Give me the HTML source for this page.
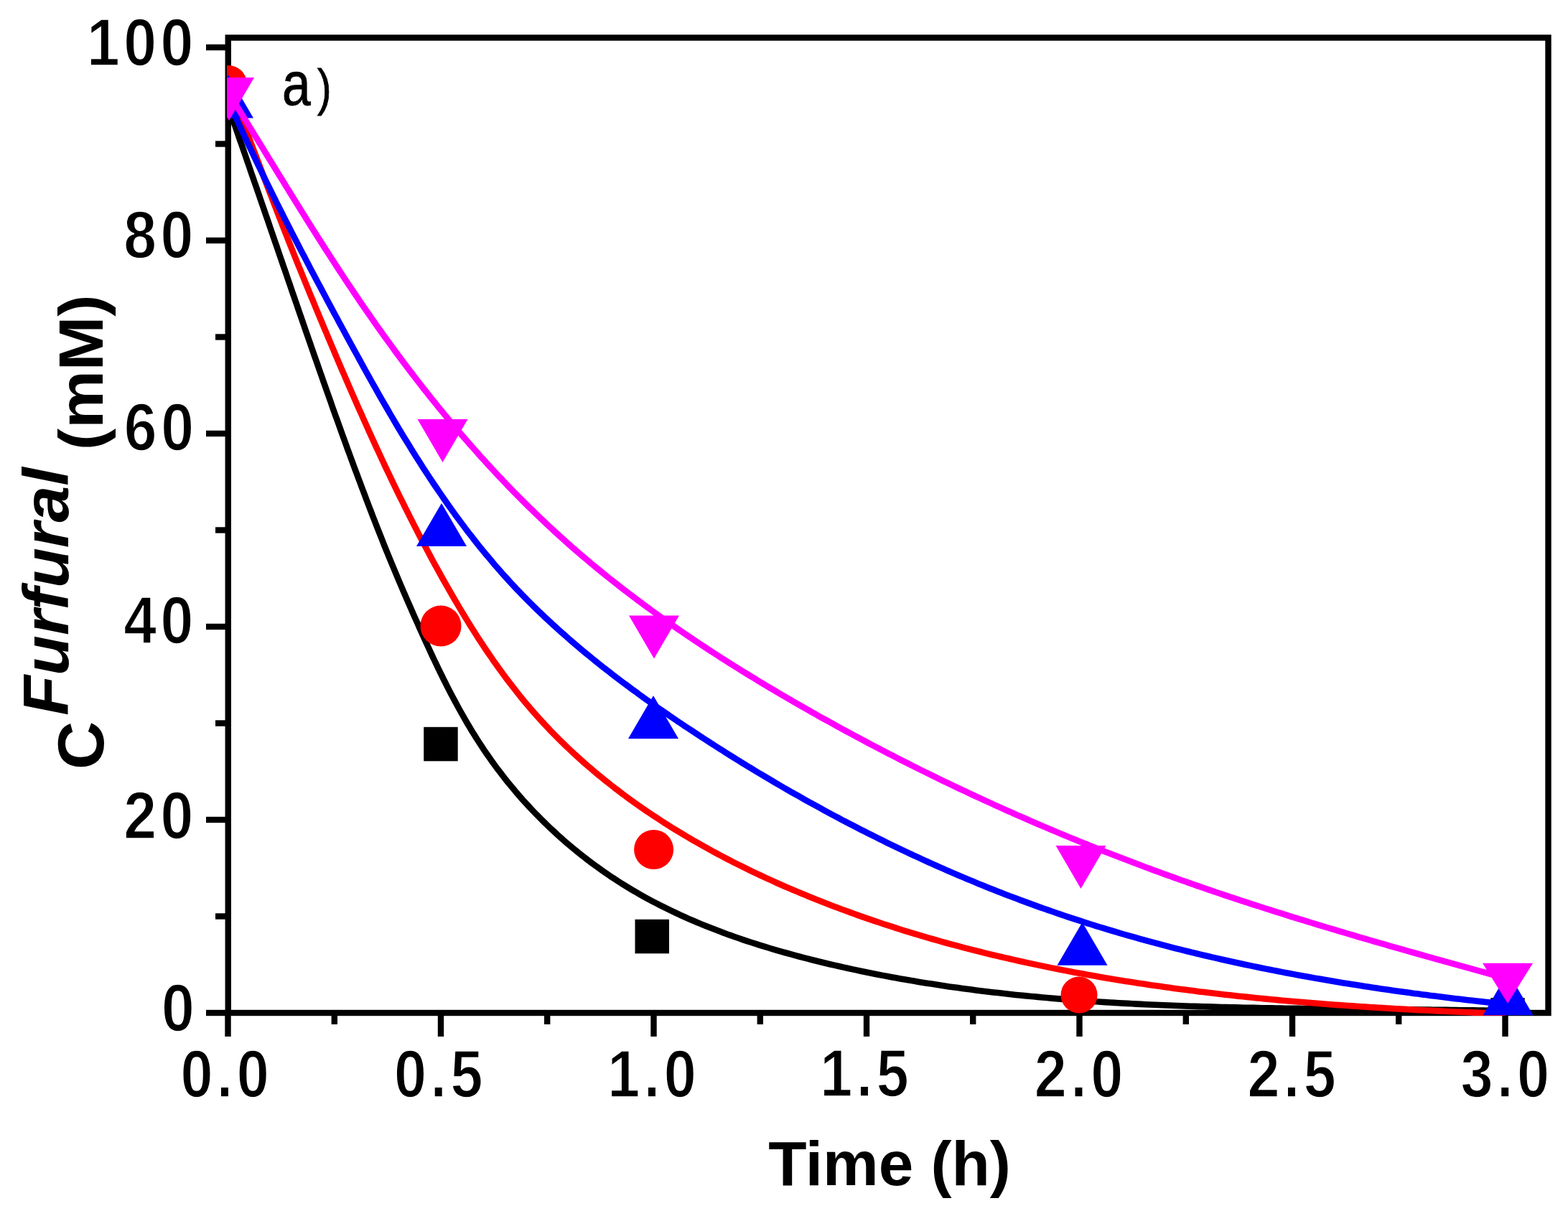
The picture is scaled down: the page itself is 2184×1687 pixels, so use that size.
<!DOCTYPE html>
<html><head><meta charset="utf-8"><title>Furfural concentration vs time</title>
<style>html,body{margin:0;padding:0;background:#fff;overflow:hidden}svg{display:block}</style>
</head><body>
<svg width="2184" height="1687" viewBox="0 0 2184 1687">
<defs><clipPath id="pc"><rect x="316" y="48" width="1845" height="1367"/></clipPath></defs>
<style>
.t{font-family:"Liberation Sans",Arial,sans-serif;font-weight:bold;font-size:90px;fill:#000;stroke:#fff;stroke-width:1.6px}
.b{font-family:"Liberation Sans",Arial,sans-serif;font-weight:bold;font-size:90px;fill:#000}
.a{font-family:"Liberation Sans",Arial,sans-serif;font-weight:normal;font-size:88px;fill:#000;stroke:#000;stroke-width:1px}
</style>
<rect width="2184" height="1687" fill="#fff"/>
<g><rect x="317.75" y="52.5" width="1838.75" height="1358.5" fill="none" stroke="#000" stroke-width="8.4"/><line x1="287" y1="1411.0" x2="318" y2="1411.0" stroke="#000" stroke-width="8.4"/><line x1="300" y1="1276.5" x2="318" y2="1276.5" stroke="#000" stroke-width="8.4"/><line x1="287" y1="1142.0" x2="318" y2="1142.0" stroke="#000" stroke-width="8.4"/><line x1="300" y1="1007.5" x2="318" y2="1007.5" stroke="#000" stroke-width="8.4"/><line x1="287" y1="873.0" x2="318" y2="873.0" stroke="#000" stroke-width="8.4"/><line x1="300" y1="738.5" x2="318" y2="738.5" stroke="#000" stroke-width="8.4"/><line x1="287" y1="604.0" x2="318" y2="604.0" stroke="#000" stroke-width="8.4"/><line x1="300" y1="469.5" x2="318" y2="469.5" stroke="#000" stroke-width="8.4"/><line x1="287" y1="335.0" x2="318" y2="335.0" stroke="#000" stroke-width="8.4"/><line x1="300" y1="200.5" x2="318" y2="200.5" stroke="#000" stroke-width="8.4"/><line x1="287" y1="66.0" x2="318" y2="66.0" stroke="#000" stroke-width="8.4"/><line x1="317.5" y1="1411" x2="317.5" y2="1444" stroke="#000" stroke-width="8.4"/><line x1="465.8" y1="1411" x2="465.8" y2="1427" stroke="#000" stroke-width="8.4"/><line x1="614.0" y1="1411" x2="614.0" y2="1444" stroke="#000" stroke-width="8.4"/><line x1="762.2" y1="1411" x2="762.2" y2="1427" stroke="#000" stroke-width="8.4"/><line x1="910.5" y1="1411" x2="910.5" y2="1444" stroke="#000" stroke-width="8.4"/><line x1="1058.8" y1="1411" x2="1058.8" y2="1427" stroke="#000" stroke-width="8.4"/><line x1="1207.0" y1="1411" x2="1207.0" y2="1444" stroke="#000" stroke-width="8.4"/><line x1="1355.2" y1="1411" x2="1355.2" y2="1427" stroke="#000" stroke-width="8.4"/><line x1="1503.5" y1="1411" x2="1503.5" y2="1444" stroke="#000" stroke-width="8.4"/><line x1="1651.8" y1="1411" x2="1651.8" y2="1427" stroke="#000" stroke-width="8.4"/><line x1="1800.0" y1="1411" x2="1800.0" y2="1444" stroke="#000" stroke-width="8.4"/><line x1="1948.2" y1="1411" x2="1948.2" y2="1427" stroke="#000" stroke-width="8.4"/><line x1="2096.5" y1="1411" x2="2096.5" y2="1444" stroke="#000" stroke-width="8.4"/></g><g clip-path="url(#pc)"><polyline points="317.3,146.8 319.4,152.7 321.5,158.6 323.5,164.5 325.6,170.4 327.7,176.3 329.7,182.2 331.8,188.1 333.8,194.0 335.9,199.9 338.0,205.8 340.0,211.7 342.1,217.7 344.1,223.6 346.2,229.5 348.2,235.4 350.2,241.3 352.3,247.2 354.3,253.1 356.4,259.0 358.4,264.9 360.5,270.9 362.5,276.8 364.5,282.7 366.6,288.6 368.6,294.5 370.6,300.4 372.7,306.3 374.7,312.2 376.7,318.2 378.8,324.1 380.8,330.0 382.8,335.9 384.9,341.8 386.9,347.7 388.9,353.6 391.0,359.6 393.0,365.5 395.0,371.4 397.1,377.3 399.1,383.2 401.1,389.1 403.2,395.0 405.2,400.9 407.2,406.9 409.3,412.8 411.3,418.7 413.4,424.6 415.4,430.5 417.4,436.4 419.5,442.3 421.5,448.2 423.6,454.1 425.6,460.1 427.7,466.0 429.7,471.9 431.8,477.8 433.8,483.7 435.9,489.6 437.9,495.5 440.0,501.4 442.1,507.3 444.1,513.2 446.2,519.1 448.3,525.0 450.3,530.9 452.4,536.8 454.5,542.7 456.6,548.6 458.7,554.5 460.8,560.4 462.8,566.3 464.9,572.2 467.0,578.1 469.2,584.0 471.3,589.9 473.4,595.8 475.5,601.7 477.6,607.5 479.8,613.4 481.9,619.3 484.0,625.2 486.2,631.0 488.3,636.9 490.5,642.8 492.6,648.6 494.8,654.5 497.0,660.3 499.2,666.2 501.4,672.0 503.6,677.9 505.8,683.7 508.0,689.5 510.2,695.4 512.4,701.2 514.6,707.0 516.9,712.9 519.1,718.7 521.4,724.5 523.6,730.3 525.9,736.1 528.2,741.9 530.5,747.7 532.8,753.5 535.1,759.3 537.4,765.1 539.8,770.8 542.1,776.6 544.5,782.4 546.9,788.1 549.3,793.9 551.7,799.6 554.1,805.4 556.5,811.1 559.0,816.9 561.4,822.6 563.9,828.3 566.4,834.1 568.9,839.8 571.4,845.5 573.9,851.2 576.4,856.9 578.9,862.6 581.5,868.3 584.0,874.0 586.6,879.7 589.2,885.4 591.7,891.1 594.3,896.8 597.0,902.5 599.6,908.2 602.2,913.9 604.9,919.5 607.6,925.2 610.3,930.8 613.0,936.4 615.8,942.0 618.5,947.6 621.4,953.2 624.2,958.8 627.0,964.3 629.9,969.8 632.9,975.4 635.8,980.8 638.8,986.3 641.8,991.8 644.9,997.2 648.0,1002.6 651.1,1008.0 654.3,1013.3 657.5,1018.7 660.8,1023.9 664.1,1029.2 667.5,1034.5 670.9,1039.7 674.3,1044.9 677.8,1050.0 681.4,1055.1 685.0,1060.2 688.6,1065.3 692.3,1070.3 696.1,1075.2 699.9,1080.2 703.7,1085.1 707.6,1090.0 711.6,1094.8 715.6,1099.6 719.6,1104.4 723.7,1109.1 727.8,1113.8 732.0,1118.4 736.2,1123.0 740.5,1127.6 744.8,1132.1 749.2,1136.6 753.6,1141.0 758.0,1145.4 762.5,1149.8 767.0,1154.1 771.6,1158.3 776.2,1162.6 780.8,1166.7 785.5,1170.9 790.2,1174.9 795.0,1179.0 799.8,1183.0 804.6,1186.9 809.5,1190.8 814.4,1194.7 819.3,1198.5 824.3,1202.2 829.3,1205.9 834.4,1209.6 839.5,1213.2 844.6,1216.8 849.7,1220.3 854.9,1223.7 860.2,1227.1 865.4,1230.5 870.7,1233.7 876.0,1237.0 881.3,1240.2 886.7,1243.3 892.1,1246.4 897.5,1249.4 903.0,1252.4 908.5,1255.4 914.0,1258.3 919.5,1261.1 925.1,1263.9 930.7,1266.7 936.3,1269.4 941.9,1272.0 947.6,1274.7 953.3,1277.2 959.0,1279.8 964.7,1282.3 970.5,1284.7 976.2,1287.1 982.0,1289.5 987.8,1291.8 993.7,1294.1 999.5,1296.3 1005.4,1298.6 1011.2,1300.7 1017.1,1302.9 1023.0,1305.0 1029.0,1307.0 1034.9,1309.1 1040.9,1311.1 1046.8,1313.0 1052.8,1314.9 1058.8,1316.8 1064.8,1318.7 1070.8,1320.5 1076.9,1322.3 1082.9,1324.1 1089.0,1325.8 1095.0,1327.5 1101.1,1329.2 1107.1,1330.9 1113.2,1332.5 1119.3,1334.1 1125.4,1335.7 1131.5,1337.2 1137.6,1338.7 1143.7,1340.2 1149.8,1341.7 1155.9,1343.2 1162.1,1344.6 1168.2,1346.0 1174.3,1347.4 1180.4,1348.7 1186.6,1350.1 1192.7,1351.4 1198.8,1352.7 1205.0,1354.0 1211.1,1355.2 1217.2,1356.5 1223.4,1357.7 1229.5,1358.9 1235.7,1360.0 1241.8,1361.2 1248.0,1362.3 1254.1,1363.4 1260.3,1364.5 1266.5,1365.6 1272.6,1366.6 1278.8,1367.7 1284.9,1368.7 1291.1,1369.7 1297.3,1370.6 1303.5,1371.6 1309.6,1372.5 1315.8,1373.4 1322.0,1374.4 1328.2,1375.2 1334.4,1376.1 1340.5,1377.0 1346.7,1377.8 1352.9,1378.6 1359.1,1379.4 1365.3,1380.2 1371.5,1380.9 1377.7,1381.7 1383.9,1382.4 1390.1,1383.1 1396.3,1383.8 1402.5,1384.5 1408.7,1385.2 1414.9,1385.9 1421.1,1386.5 1427.4,1387.1 1433.6,1387.7 1439.8,1388.3 1446.0,1388.9 1452.2,1389.5 1458.4,1390.0 1464.7,1390.6 1470.9,1391.1 1477.1,1391.6 1483.3,1392.1 1489.6,1392.6 1495.8,1393.1 1502.0,1393.6 1508.3,1394.0 1514.5,1394.5 1520.7,1394.9 1527.0,1395.3 1533.2,1395.7 1539.4,1396.1 1545.7,1396.5 1551.9,1396.9 1558.2,1397.2 1564.4,1397.6 1570.7,1397.9 1576.9,1398.2 1583.1,1398.6 1589.4,1398.9 1595.6,1399.2 1601.9,1399.5 1608.1,1399.7 1614.4,1400.0 1620.6,1400.3 1626.9,1400.5 1633.2,1400.8 1639.4,1401.0 1645.7,1401.2 1651.9,1401.5 1658.2,1401.7 1664.4,1401.9 1670.7,1402.1 1677.0,1402.3 1683.2,1402.4 1689.5,1402.6 1695.7,1402.8 1702.0,1403.0 1708.3,1403.1 1714.5,1403.3 1720.8,1403.4 1727.0,1403.5 1733.3,1403.7 1739.6,1403.8 1745.8,1403.9 1752.1,1404.0 1758.4,1404.2 1764.6,1404.3 1770.9,1404.4 1777.2,1404.5 1783.4,1404.6 1789.7,1404.7 1796.0,1404.7 1802.2,1404.8 1808.5,1404.9 1814.8,1405.0 1821.0,1405.1 1827.3,1405.1 1833.6,1405.2 1839.8,1405.3 1846.1,1405.3 1852.4,1405.4 1858.7,1405.5 1864.9,1405.5 1871.2,1405.6 1877.5,1405.6 1883.7,1405.7 1890.0,1405.7 1896.3,1405.8 1902.5,1405.8 1908.8,1405.9 1915.1,1406.0 1921.3,1406.0 1927.6,1406.1 1933.9,1406.1 1940.1,1406.2 1946.4,1406.2 1952.7,1406.3 1958.9,1406.3 1965.2,1406.4 1971.4,1406.4 1977.7,1406.5 1984.0,1406.6 1990.2,1406.6 1996.5,1406.7 2002.8,1406.8 2009.0,1406.8 2015.3,1406.9 2021.5,1407.0 2027.8,1407.1 2034.0,1407.2 2040.3,1407.2 2046.6,1407.3 2052.8,1407.4 2059.1,1407.5 2065.3,1407.6 2071.6,1407.7 2077.8,1407.9 2084.1,1408.0 2090.3,1408.1 2096.6,1408.2" fill="none" stroke="#000" stroke-width="8.6" stroke-linejoin="round"/><rect x="590.2" y="1012.8" width="47.5" height="47.5" fill="#000"/><rect x="884.5" y="1280.8" width="47.5" height="47.5" fill="#000"/><rect x="2076.2" y="1390.2" width="47.5" height="47.5" fill="#000"/><polyline points="318.5,119.5 320.8,125.1 323.0,130.8 325.3,136.4 327.5,142.1 329.7,147.7 331.9,153.4 334.1,159.1 336.3,164.7 338.5,170.4 340.7,176.1 342.9,181.8 345.1,187.4 347.2,193.1 349.4,198.8 351.6,204.5 353.7,210.2 355.9,215.9 358.1,221.6 360.2,227.2 362.4,232.9 364.5,238.6 366.7,244.3 368.8,250.0 371.0,255.7 373.2,261.4 375.3,267.1 377.5,272.7 379.7,278.4 381.9,284.1 384.1,289.8 386.3,295.5 388.5,301.1 390.7,306.8 392.9,312.5 395.1,318.1 397.3,323.8 399.6,329.5 401.8,335.1 404.1,340.8 406.3,346.4 408.6,352.1 410.8,357.8 413.1,363.4 415.4,369.1 417.7,374.7 420.0,380.3 422.3,386.0 424.6,391.6 426.9,397.3 429.2,402.9 431.5,408.6 433.8,414.2 436.2,419.8 438.5,425.5 440.8,431.1 443.2,436.7 445.5,442.4 447.9,448.0 450.2,453.6 452.6,459.2 455.0,464.9 457.3,470.5 459.7,476.1 462.1,481.8 464.5,487.4 466.8,493.0 469.2,498.6 471.6,504.2 474.0,509.9 476.4,515.5 478.9,521.1 481.3,526.7 483.7,532.3 486.1,537.9 488.6,543.5 491.0,549.1 493.5,554.7 495.9,560.3 498.4,565.9 500.9,571.5 503.4,577.1 505.9,582.7 508.4,588.2 510.9,593.8 513.4,599.4 515.9,604.9 518.4,610.5 521.0,616.1 523.5,621.6 526.1,627.1 528.7,632.7 531.2,638.2 533.8,643.8 536.4,649.3 539.0,654.8 541.7,660.3 544.3,665.8 546.9,671.3 549.6,676.8 552.2,682.3 554.9,687.8 557.6,693.3 560.3,698.7 563.0,704.2 565.7,709.7 568.5,715.1 571.2,720.6 574.0,726.0 576.7,731.4 579.5,736.8 582.3,742.3 585.1,747.7 587.9,753.1 590.8,758.5 593.6,763.8 596.5,769.2 599.4,774.6 602.2,779.9 605.1,785.3 608.1,790.6 611.0,795.9 614.0,801.3 616.9,806.6 619.9,811.9 622.9,817.1 625.9,822.4 628.9,827.7 632.0,833.0 635.0,838.2 638.1,843.4 641.2,848.6 644.3,853.8 647.5,859.0 650.7,864.2 653.8,869.4 657.0,874.5 660.3,879.6 663.5,884.7 666.8,889.8 670.1,894.9 673.4,899.9 676.8,905.0 680.2,910.0 683.6,914.9 687.0,919.9 690.5,924.8 694.0,929.7 697.5,934.6 701.1,939.5 704.7,944.3 708.3,949.1 712.0,953.9 715.7,958.7 719.4,963.4 723.1,968.1 726.9,972.8 730.7,977.4 734.6,982.0 738.5,986.6 742.4,991.1 746.4,995.6 750.4,1000.1 754.4,1004.5 758.5,1009.0 762.6,1013.3 766.7,1017.7 770.9,1022.0 775.1,1026.3 779.3,1030.5 783.6,1034.7 787.9,1038.9 792.2,1043.0 796.6,1047.1 801.0,1051.2 805.5,1055.3 809.9,1059.3 814.4,1063.3 819.0,1067.2 823.5,1071.1 828.1,1075.0 832.7,1078.9 837.4,1082.7 842.0,1086.5 846.7,1090.2 851.5,1094.0 856.2,1097.7 861.0,1101.3 865.8,1105.0 870.7,1108.6 875.5,1112.2 880.4,1115.7 885.3,1119.2 890.3,1122.7 895.3,1126.2 900.2,1129.6 905.3,1133.0 910.3,1136.4 915.4,1139.7 920.4,1143.0 925.5,1146.3 930.7,1149.6 935.8,1152.8 941.0,1156.0 946.2,1159.2 951.4,1162.3 956.6,1165.4 961.9,1168.5 967.1,1171.6 972.4,1174.6 977.7,1177.6 983.1,1180.6 988.4,1183.5 993.8,1186.5 999.2,1189.4 1004.6,1192.2 1010.0,1195.1 1015.4,1197.9 1020.8,1200.7 1026.3,1203.5 1031.8,1206.2 1037.3,1208.9 1042.8,1211.6 1048.3,1214.3 1053.8,1216.9 1059.3,1219.5 1064.9,1222.1 1070.5,1224.7 1076.0,1227.2 1081.6,1229.7 1087.2,1232.2 1092.9,1234.7 1098.5,1237.1 1104.1,1239.5 1109.8,1241.9 1115.4,1244.3 1121.1,1246.6 1126.7,1249.0 1132.4,1251.3 1138.1,1253.5 1143.8,1255.8 1149.5,1258.0 1155.2,1260.2 1160.9,1262.4 1166.6,1264.6 1172.4,1266.7 1178.1,1268.8 1183.8,1270.9 1189.6,1273.0 1195.4,1275.1 1201.1,1277.1 1206.9,1279.1 1212.7,1281.1 1218.5,1283.1 1224.3,1285.0 1230.0,1287.0 1235.9,1288.9 1241.7,1290.7 1247.5,1292.6 1253.3,1294.5 1259.1,1296.3 1265.0,1298.1 1270.8,1299.9 1276.7,1301.6 1282.5,1303.4 1288.4,1305.1 1294.2,1306.8 1300.1,1308.5 1306.0,1310.2 1311.8,1311.8 1317.7,1313.5 1323.6,1315.1 1329.5,1316.7 1335.4,1318.2 1341.3,1319.8 1347.2,1321.3 1353.1,1322.9 1359.0,1324.4 1364.9,1325.8 1370.9,1327.3 1376.8,1328.8 1382.7,1330.2 1388.6,1331.6 1394.6,1333.0 1400.5,1334.4 1406.5,1335.8 1412.4,1337.1 1418.4,1338.5 1424.3,1339.8 1430.3,1341.1 1436.2,1342.4 1442.2,1343.6 1448.2,1344.9 1454.1,1346.1 1460.1,1347.4 1466.1,1348.6 1472.1,1349.8 1478.0,1350.9 1484.0,1352.1 1490.0,1353.3 1496.0,1354.4 1502.0,1355.5 1508.0,1356.6 1514.0,1357.7 1520.0,1358.8 1526.0,1359.8 1532.0,1360.9 1538.0,1361.9 1544.0,1362.9 1550.0,1364.0 1556.0,1364.9 1562.0,1365.9 1568.0,1366.9 1574.0,1367.8 1580.1,1368.8 1586.1,1369.7 1592.1,1370.6 1598.1,1371.5 1604.2,1372.4 1610.2,1373.3 1616.2,1374.1 1622.3,1375.0 1628.3,1375.8 1634.3,1376.7 1640.4,1377.5 1646.4,1378.3 1652.5,1379.1 1658.5,1379.8 1664.6,1380.6 1670.6,1381.4 1676.7,1382.1 1682.7,1382.8 1688.8,1383.6 1694.8,1384.3 1700.9,1385.0 1707.0,1385.7 1713.0,1386.3 1719.1,1387.0 1725.1,1387.7 1731.2,1388.3 1737.3,1388.9 1743.3,1389.6 1749.4,1390.2 1755.5,1390.8 1761.5,1391.4 1767.6,1392.0 1773.7,1392.5 1779.8,1393.1 1785.8,1393.7 1791.9,1394.2 1798.0,1394.8 1804.1,1395.3 1810.2,1395.8 1816.2,1396.3 1822.3,1396.8 1828.4,1397.3 1834.5,1397.8 1840.6,1398.3 1846.7,1398.7 1852.8,1399.2 1858.8,1399.7 1864.9,1400.1 1871.0,1400.5 1877.1,1401.0 1883.2,1401.4 1889.3,1401.8 1895.4,1402.2 1901.5,1402.6 1907.6,1403.0 1913.6,1403.4 1919.7,1403.8 1925.8,1404.1 1931.9,1404.5 1938.0,1404.9 1944.1,1405.2 1950.2,1405.6 1956.3,1405.9 1962.4,1406.2 1968.5,1406.6 1974.6,1406.9 1980.7,1407.2 1986.8,1407.5 1992.9,1407.8 1999.0,1408.1 2005.1,1408.4 2011.2,1408.7 2017.3,1409.0 2023.4,1409.2 2029.4,1409.5 2035.5,1409.8 2041.6,1410.0 2047.7,1410.3 2053.8,1410.6 2059.9,1410.8 2066.0,1411.0 2072.1,1411.3 2078.2,1411.5 2084.3,1411.8 2090.4,1412.0 2096.5,1412.2" fill="none" stroke="#f00" stroke-width="8.6" stroke-linejoin="round"/><circle cx="318.0" cy="117.0" r="26" fill="#f00"/><circle cx="614.0" cy="872.0" r="28.5" fill="#f00"/><circle cx="910.6" cy="1183.5" r="27.5" fill="#f00"/><circle cx="1503.0" cy="1386.0" r="25.5" fill="#f00"/><polyline points="317.7,139.5 320.1,144.9 322.5,150.2 324.9,155.6 327.3,160.9 329.8,166.2 332.2,171.5 334.6,176.8 337.1,182.1 339.5,187.4 342.0,192.6 344.4,197.9 346.9,203.2 349.4,208.4 351.9,213.6 354.4,218.9 356.9,224.1 359.4,229.3 361.9,234.5 364.4,239.7 366.9,244.9 369.4,250.1 372.0,255.3 374.5,260.4 377.1,265.6 379.6,270.8 382.2,275.9 384.7,281.1 387.3,286.2 389.9,291.4 392.5,296.5 395.1,301.6 397.7,306.8 400.3,311.9 402.9,317.0 405.5,322.1 408.1,327.2 410.7,332.3 413.4,337.4 416.0,342.5 418.6,347.6 421.3,352.7 424.0,357.8 426.6,362.9 429.3,368.0 431.9,373.1 434.6,378.2 437.3,383.3 440.0,388.4 442.7,393.5 445.4,398.6 448.1,403.6 450.8,408.7 453.5,413.8 456.2,418.9 458.9,424.0 461.7,429.1 464.4,434.2 467.1,439.2 469.9,444.3 472.6,449.4 475.4,454.5 478.1,459.6 480.9,464.7 483.6,469.8 486.4,474.9 489.2,480.0 492.0,485.1 494.8,490.2 497.6,495.3 500.4,500.4 503.2,505.5 506.0,510.6 508.8,515.7 511.6,520.8 514.5,525.9 517.3,531.0 520.2,536.1 523.1,541.1 525.9,546.2 528.8,551.3 531.7,556.4 534.6,561.4 537.6,566.5 540.5,571.5 543.4,576.6 546.4,581.6 549.3,586.6 552.3,591.7 555.3,596.7 558.3,601.7 561.3,606.7 564.4,611.7 567.4,616.6 570.5,621.6 573.5,626.6 576.6,631.5 579.7,636.5 582.9,641.4 586.0,646.3 589.1,651.2 592.3,656.1 595.5,661.0 598.7,665.8 601.9,670.7 605.1,675.5 608.4,680.3 611.7,685.2 615.0,689.9 618.3,694.7 621.6,699.5 624.9,704.2 628.3,709.0 631.7,713.7 635.1,718.4 638.5,723.0 642.0,727.7 645.4,732.3 648.9,737.0 652.4,741.6 656.0,746.1 659.5,750.7 663.1,755.2 666.7,759.8 670.3,764.3 674.0,768.7 677.7,773.2 681.4,777.6 685.1,782.0 688.8,786.4 692.6,790.8 696.4,795.1 700.2,799.5 704.1,803.7 708.0,808.0 711.9,812.3 715.8,816.5 719.7,820.7 723.7,824.8 727.7,829.0 731.8,833.1 735.8,837.2 739.9,841.3 744.0,845.3 748.1,849.4 752.3,853.4 756.5,857.3 760.6,861.3 764.9,865.2 769.1,869.2 773.4,873.0 777.6,876.9 781.9,880.8 786.3,884.6 790.6,888.4 795.0,892.2 799.4,896.0 803.8,899.7 808.2,903.5 812.6,907.2 817.1,910.9 821.6,914.5 826.1,918.2 830.6,921.8 835.1,925.5 839.6,929.1 844.2,932.6 848.8,936.2 853.4,939.8 858.0,943.3 862.6,946.8 867.2,950.3 871.9,953.8 876.6,957.3 881.2,960.7 885.9,964.1 890.6,967.6 895.3,971.0 900.1,974.4 904.8,977.7 909.6,981.1 914.3,984.5 919.1,987.8 923.9,991.1 928.7,994.4 933.5,997.7 938.3,1001.0 943.1,1004.3 948.0,1007.5 952.8,1010.8 957.7,1014.0 962.5,1017.2 967.4,1020.4 972.3,1023.6 977.2,1026.8 982.1,1030.0 987.0,1033.2 991.9,1036.3 996.8,1039.5 1001.7,1042.6 1006.6,1045.7 1011.5,1048.9 1016.5,1052.0 1021.4,1055.0 1026.4,1058.1 1031.3,1061.2 1036.3,1064.2 1041.3,1067.3 1046.3,1070.3 1051.2,1073.3 1056.2,1076.4 1061.2,1079.3 1066.2,1082.3 1071.3,1085.3 1076.3,1088.3 1081.3,1091.2 1086.3,1094.1 1091.4,1097.1 1096.4,1100.0 1101.5,1102.9 1106.5,1105.8 1111.6,1108.6 1116.7,1111.5 1121.8,1114.4 1126.9,1117.2 1132.0,1120.0 1137.1,1122.8 1142.2,1125.6 1147.3,1128.4 1152.4,1131.2 1157.5,1134.0 1162.7,1136.7 1167.8,1139.4 1172.9,1142.2 1178.1,1144.9 1183.3,1147.6 1188.4,1150.2 1193.6,1152.9 1198.8,1155.6 1204.0,1158.2 1209.2,1160.8 1214.4,1163.4 1219.6,1166.0 1224.8,1168.6 1230.0,1171.2 1235.2,1173.8 1240.4,1176.3 1245.7,1178.8 1250.9,1181.3 1256.2,1183.9 1261.4,1186.3 1266.7,1188.8 1272.0,1191.3 1277.2,1193.7 1282.5,1196.2 1287.8,1198.6 1293.1,1201.0 1298.4,1203.4 1303.7,1205.7 1309.0,1208.1 1314.3,1210.4 1319.6,1212.8 1325.0,1215.1 1330.3,1217.4 1335.7,1219.7 1341.0,1221.9 1346.4,1224.2 1351.7,1226.4 1357.1,1228.6 1362.4,1230.9 1367.8,1233.0 1373.2,1235.2 1378.6,1237.4 1384.0,1239.5 1389.4,1241.7 1394.8,1243.8 1400.2,1245.9 1405.6,1248.0 1411.1,1250.0 1416.5,1252.1 1421.9,1254.1 1427.4,1256.1 1432.8,1258.1 1438.3,1260.1 1443.7,1262.1 1449.2,1264.1 1454.7,1266.0 1460.1,1267.9 1465.6,1269.8 1471.1,1271.7 1476.6,1273.6 1482.1,1275.5 1487.6,1277.3 1493.1,1279.1 1498.6,1280.9 1504.1,1282.7 1509.7,1284.5 1515.2,1286.3 1520.7,1288.0 1526.3,1289.8 1531.8,1291.5 1537.4,1293.2 1542.9,1294.9 1548.5,1296.5 1554.1,1298.2 1559.6,1299.8 1565.2,1301.5 1570.8,1303.1 1576.4,1304.7 1581.9,1306.2 1587.5,1307.8 1593.1,1309.4 1598.7,1310.9 1604.3,1312.4 1610.0,1313.9 1615.6,1315.4 1621.2,1316.9 1626.8,1318.4 1632.4,1319.8 1638.1,1321.3 1643.7,1322.7 1649.3,1324.1 1655.0,1325.5 1660.6,1326.9 1666.3,1328.3 1671.9,1329.6 1677.6,1331.0 1683.3,1332.3 1688.9,1333.6 1694.6,1334.9 1700.3,1336.2 1705.9,1337.5 1711.6,1338.8 1717.3,1340.0 1723.0,1341.3 1728.7,1342.5 1734.4,1343.7 1740.0,1344.9 1745.7,1346.1 1751.4,1347.3 1757.1,1348.5 1762.8,1349.6 1768.6,1350.7 1774.3,1351.9 1780.0,1353.0 1785.7,1354.1 1791.4,1355.2 1797.1,1356.3 1802.9,1357.4 1808.6,1358.4 1814.3,1359.5 1820.0,1360.5 1825.8,1361.5 1831.5,1362.6 1837.2,1363.6 1843.0,1364.6 1848.7,1365.5 1854.5,1366.5 1860.2,1367.5 1865.9,1368.4 1871.7,1369.4 1877.4,1370.3 1883.2,1371.2 1888.9,1372.1 1894.7,1373.0 1900.5,1373.9 1906.2,1374.8 1912.0,1375.7 1917.7,1376.6 1923.5,1377.4 1929.3,1378.2 1935.0,1379.1 1940.8,1379.9 1946.5,1380.7 1952.3,1381.5 1958.1,1382.3 1963.8,1383.1 1969.6,1383.9 1975.4,1384.6 1981.2,1385.4 1986.9,1386.1 1992.7,1386.9 1998.5,1387.6 2004.2,1388.3 2010.0,1389.1 2015.8,1389.8 2021.6,1390.5 2027.3,1391.2 2033.1,1391.8 2038.9,1392.5 2044.7,1393.2 2050.4,1393.8 2056.2,1394.5 2062.0,1395.1 2067.8,1395.8 2073.5,1396.4 2079.3,1397.0 2085.1,1397.6 2090.8,1398.2 2096.6,1398.8" fill="none" stroke="#00f" stroke-width="8.6" stroke-linejoin="round"/><polygon points="318.0,104.5 353.0,164.5 283.0,164.5" fill="#00f"/><polygon points="615.0,701.0 650.0,761.0 580.0,761.0" fill="#00f"/><polygon points="910.0,969.0 945.0,1029.0 875.0,1029.0" fill="#00f"/><polygon points="1507.5,1284.7 1542.5,1344.7 1472.5,1344.7" fill="#00f"/><polygon points="2100.5,1354.3 2135.5,1414.3 2065.5,1414.3" fill="#00f"/><polyline points="320.0,132.2 322.9,136.9 325.9,141.5 328.8,146.2 331.7,150.9 334.6,155.7 337.6,160.4 340.5,165.1 343.4,169.8 346.3,174.5 349.2,179.3 352.1,184.0 355.0,188.7 358.0,193.5 360.9,198.2 363.8,202.9 366.7,207.7 369.6,212.4 372.5,217.2 375.4,221.9 378.4,226.7 381.3,231.4 384.2,236.2 387.1,240.9 390.0,245.7 393.0,250.4 395.9,255.2 398.8,260.0 401.8,264.7 404.7,269.5 407.6,274.2 410.6,279.0 413.5,283.7 416.5,288.5 419.4,293.2 422.4,298.0 425.4,302.7 428.3,307.5 431.3,312.2 434.3,317.0 437.3,321.7 440.3,326.5 443.3,331.2 446.3,335.9 449.3,340.6 452.3,345.4 455.4,350.1 458.4,354.8 461.4,359.5 464.5,364.2 467.5,368.9 470.6,373.6 473.7,378.3 476.8,383.0 479.8,387.7 482.9,392.4 486.1,397.1 489.2,401.7 492.3,406.4 495.4,411.0 498.6,415.7 501.7,420.3 504.9,425.0 508.1,429.6 511.3,434.2 514.5,438.8 517.7,443.4 520.9,448.0 524.1,452.6 527.4,457.2 530.6,461.8 533.9,466.4 537.2,470.9 540.5,475.5 543.8,480.0 547.1,484.6 550.4,489.1 553.7,493.6 557.1,498.1 560.4,502.6 563.8,507.1 567.2,511.6 570.6,516.1 574.0,520.5 577.4,525.0 580.8,529.4 584.3,533.9 587.7,538.3 591.2,542.7 594.7,547.1 598.1,551.5 601.6,555.9 605.2,560.3 608.7,564.6 612.2,569.0 615.8,573.3 619.3,577.6 622.9,582.0 626.5,586.3 630.1,590.6 633.7,594.9 637.3,599.1 641.0,603.4 644.6,607.6 648.3,611.9 652.0,616.1 655.7,620.3 659.4,624.5 663.1,628.7 666.8,632.9 670.5,637.1 674.3,641.2 678.1,645.3 681.9,649.5 685.7,653.6 689.5,657.7 693.3,661.8 697.1,665.8 701.0,669.9 704.8,673.9 708.7,678.0 712.6,682.0 716.5,686.0 720.4,690.0 724.4,694.0 728.3,697.9 732.3,701.9 736.3,705.8 740.3,709.7 744.3,713.6 748.3,717.5 752.3,721.4 756.4,725.2 760.5,729.1 764.5,732.9 768.6,736.7 772.7,740.5 776.9,744.3 781.0,748.0 785.2,751.8 789.3,755.5 793.5,759.2 797.7,762.9 801.9,766.6 806.2,770.2 810.4,773.9 814.7,777.5 818.9,781.1 823.2,784.7 827.5,788.3 831.9,791.9 836.2,795.4 840.5,798.9 844.9,802.5 849.3,806.0 853.7,809.4 858.1,812.9 862.5,816.4 866.9,819.8 871.3,823.2 875.8,826.6 880.3,830.0 884.7,833.4 889.2,836.8 893.7,840.1 898.2,843.5 902.8,846.8 907.3,850.1 911.8,853.4 916.4,856.7 921.0,860.0 925.6,863.2 930.1,866.4 934.7,869.7 939.4,872.9 944.0,876.1 948.6,879.3 953.3,882.5 957.9,885.6 962.6,888.8 967.2,891.9 971.9,895.0 976.6,898.1 981.3,901.2 986.0,904.3 990.7,907.4 995.5,910.5 1000.2,913.5 1004.9,916.6 1009.7,919.6 1014.4,922.6 1019.2,925.6 1024.0,928.6 1028.8,931.6 1033.5,934.6 1038.3,937.5 1043.1,940.5 1047.9,943.4 1052.8,946.3 1057.6,949.3 1062.4,952.2 1067.2,955.1 1072.1,958.0 1076.9,960.8 1081.8,963.7 1086.6,966.6 1091.5,969.4 1096.3,972.3 1101.2,975.1 1106.1,977.9 1111.0,980.7 1115.8,983.5 1120.7,986.3 1125.6,989.1 1130.5,991.9 1135.4,994.6 1140.3,997.4 1145.2,1000.2 1150.2,1002.9 1155.1,1005.6 1160.0,1008.3 1164.9,1011.1 1169.9,1013.8 1174.8,1016.5 1179.7,1019.1 1184.7,1021.8 1189.6,1024.5 1194.6,1027.1 1199.5,1029.8 1204.5,1032.4 1209.5,1035.1 1214.4,1037.7 1219.4,1040.3 1224.4,1042.9 1229.4,1045.5 1234.4,1048.1 1239.3,1050.7 1244.3,1053.2 1249.3,1055.8 1254.3,1058.4 1259.3,1060.9 1264.4,1063.4 1269.4,1066.0 1274.4,1068.5 1279.4,1071.0 1284.4,1073.5 1289.5,1076.0 1294.5,1078.4 1299.5,1080.9 1304.6,1083.4 1309.6,1085.8 1314.7,1088.3 1319.7,1090.7 1324.8,1093.1 1329.9,1095.6 1334.9,1098.0 1340.0,1100.4 1345.1,1102.7 1350.1,1105.1 1355.2,1107.5 1360.3,1109.9 1365.4,1112.2 1370.5,1114.6 1375.6,1116.9 1380.7,1119.2 1385.8,1121.6 1390.9,1123.9 1396.0,1126.2 1401.1,1128.5 1406.3,1130.7 1411.4,1133.0 1416.5,1135.3 1421.6,1137.5 1426.8,1139.8 1431.9,1142.0 1437.0,1144.3 1442.2,1146.5 1447.3,1148.7 1452.5,1150.9 1457.7,1153.1 1462.8,1155.3 1468.0,1157.4 1473.1,1159.6 1478.3,1161.8 1483.5,1163.9 1488.7,1166.1 1493.8,1168.2 1499.0,1170.3 1504.2,1172.4 1509.4,1174.5 1514.6,1176.6 1519.8,1178.7 1525.0,1180.8 1530.2,1182.9 1535.4,1184.9 1540.6,1187.0 1545.9,1189.0 1551.1,1191.1 1556.3,1193.1 1561.5,1195.1 1566.8,1197.1 1572.0,1199.1 1577.2,1201.1 1582.5,1203.1 1587.7,1205.1 1592.9,1207.0 1598.2,1209.0 1603.5,1210.9 1608.7,1212.9 1614.0,1214.8 1619.2,1216.7 1624.5,1218.6 1629.8,1220.5 1635.0,1222.4 1640.3,1224.3 1645.6,1226.2 1650.9,1228.0 1656.2,1229.9 1661.4,1231.8 1666.7,1233.6 1672.0,1235.4 1677.3,1237.3 1682.6,1239.1 1687.9,1240.9 1693.2,1242.7 1698.5,1244.5 1703.9,1246.3 1709.2,1248.1 1714.5,1249.8 1719.8,1251.6 1725.1,1253.3 1730.4,1255.1 1735.8,1256.8 1741.1,1258.6 1746.4,1260.3 1751.8,1262.0 1757.1,1263.8 1762.4,1265.5 1767.8,1267.2 1773.1,1268.9 1778.5,1270.6 1783.8,1272.2 1789.2,1273.9 1794.5,1275.6 1799.9,1277.3 1805.2,1278.9 1810.6,1280.6 1815.9,1282.2 1821.3,1283.9 1826.7,1285.5 1832.0,1287.1 1837.4,1288.8 1842.8,1290.4 1848.1,1292.0 1853.5,1293.6 1858.9,1295.2 1864.3,1296.8 1869.6,1298.4 1875.0,1300.0 1880.4,1301.6 1885.8,1303.2 1891.2,1304.8 1896.5,1306.4 1901.9,1307.9 1907.3,1309.5 1912.7,1311.1 1918.1,1312.6 1923.5,1314.2 1928.9,1315.7 1934.3,1317.3 1939.7,1318.8 1945.1,1320.4 1950.5,1321.9 1955.9,1323.4 1961.3,1325.0 1966.7,1326.5 1972.1,1328.0 1977.5,1329.5 1982.9,1331.1 1988.3,1332.6 1993.7,1334.1 1999.1,1335.6 2004.5,1337.1 2009.9,1338.6 2015.3,1340.1 2020.7,1341.6 2026.1,1343.1 2031.5,1344.6 2037.0,1346.1 2042.4,1347.6 2047.8,1349.1 2053.2,1350.6 2058.6,1352.1 2064.0,1353.6 2069.4,1355.0 2074.8,1356.5 2080.2,1358.0 2085.7,1359.5 2091.1,1361.0 2096.5,1362.5" fill="none" stroke="#f0f" stroke-width="8.6" stroke-linejoin="round"/><polygon points="284.0,108.0 354.0,108.0 319.0,168.0" fill="#f0f"/><polygon points="581.5,584.0 651.5,584.0 616.5,644.0" fill="#f0f"/><polygon points="876.0,857.5 946.0,857.5 911.0,917.5" fill="#f0f"/><polygon points="1470.5,1178.0 1540.5,1178.0 1505.5,1238.0" fill="#f0f"/><polygon points="2065.0,1341.7 2135.0,1341.7 2100.0,1397.7" fill="#f0f"/></g><g transform="matrix(0.9150,0,0,1.0250,32.39,-2.29)"><text id="y100" x="265" y="90.7" text-anchor="end" class="t" letter-spacing="6.0">100</text></g><g transform="matrix(0.9150,0,0,1.0250,32.39,-9.96)"><text id="y80" x="265" y="359.7" text-anchor="end" class="t" letter-spacing="6.0">80</text></g><g transform="matrix(0.9150,0,0,1.0250,32.99,-17.34)"><text id="y60" x="265" y="628.7" text-anchor="end" class="t" letter-spacing="6.0">60</text></g><g transform="matrix(0.9150,0,0,1.0250,32.29,-24.51)"><text id="y40" x="265" y="897.7" text-anchor="end" class="t" letter-spacing="6.0">40</text></g><g transform="matrix(0.9150,0,0,1.0250,32.29,-27.99)"><text id="y20" x="265" y="1166.7" text-anchor="end" class="t" letter-spacing="6.0">20</text></g><g transform="matrix(0.9150,0,0,1.0250,33.89,-35.66)"><text id="y0" x="265" y="1435.7" text-anchor="end" class="t" letter-spacing="6.0">0</text></g><g transform="matrix(0.9000,0,0,1.0350,30.05,-53.63)"><text id="x00" x="317.5" y="1528" text-anchor="middle" class="t" letter-spacing="6.0">0.0</text></g><g transform="matrix(0.9000,0,0,1.0350,60.85,-53.63)"><text id="x05" x="614.0" y="1528" text-anchor="middle" class="t" letter-spacing="6.0">0.5</text></g><g transform="matrix(0.9000,0,0,1.0350,91.30,-53.63)"><text id="x10" x="910.5" y="1528" text-anchor="middle" class="t" letter-spacing="6.0">1.0</text></g><g transform="matrix(0.9000,0,0,1.0350,120.45,-54.14)"><text id="x15" x="1207.0" y="1528" text-anchor="middle" class="t" letter-spacing="6.0">1.5</text></g><g transform="matrix(0.9000,0,0,1.0350,152.10,-53.63)"><text id="x20" x="1503.5" y="1528" text-anchor="middle" class="t" letter-spacing="6.0">2.0</text></g><g transform="matrix(0.9000,0,0,1.0350,181.80,-53.63)"><text id="x25" x="1800.0" y="1528" text-anchor="middle" class="t" letter-spacing="6.0">2.5</text></g><g transform="matrix(0.9000,0,0,1.0350,212.10,-53.63)"><text id="x30" x="2096.5" y="1528" text-anchor="middle" class="t" letter-spacing="6.0">3.0</text></g><g transform="matrix(0.9697,0,0,0.9718,31.60,45.11)"><text id="time" x="1071" y="1652.5" text-anchor="start" class="b">Time (h)</text></g><g transform="matrix(1.0187,0,0,1.0362,-3.54,-34.62)"><g id="C" transform="translate(145,1068) rotate(-90)"><text x="0" y="0" class="b">C</text></g></g><g transform="matrix(0.9791,0,0,1.0159,1.03,-14.02)"><g id="F" transform="translate(96,995) rotate(-90)"><text x="0" y="0" class="b" font-style="italic">Furfural</text></g></g><g transform="matrix(0.9624,0,0,1.0068,4.54,0.79)"><g id="mM" transform="translate(144,622) rotate(-90)"><text x="0" y="0" class="b">(mM)</text></g></g><g transform="matrix(0.8109,0,0,0.9750,72.77,2.70)"><text x="395" y="147" class="a">a<tspan x="455.5" y="147.3" font-size="72.5px">)</tspan></text></g>
</svg>
</body></html>
